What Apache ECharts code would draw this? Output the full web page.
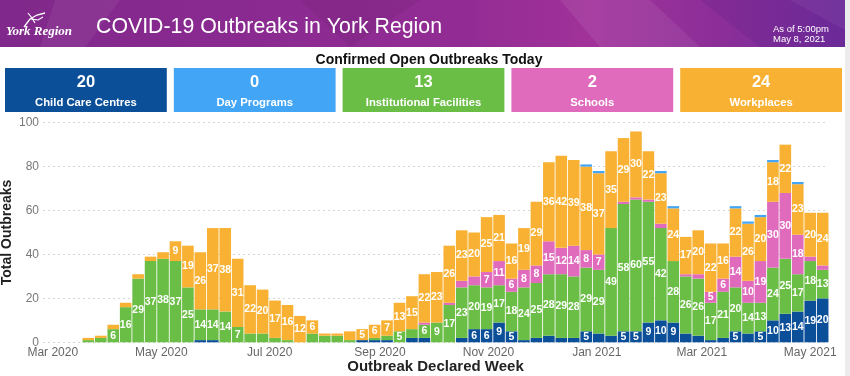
<!DOCTYPE html>
<html><head><meta charset="utf-8">
<script src="https://cdn.jsdelivr.net/npm/echarts@6/dist/echarts.min.js"></script>
<style>html,body{margin:0;padding:0;background:#ececec;overflow:hidden}#c{width:845px;height:376px;background:#fff}</style>
</head><body><div id="c"></div>
<script>
// ---- data ----
const weeks = ['2020-03-21','2020-03-28','2020-04-04','2020-04-11','2020-04-18','2020-04-25','2020-05-02','2020-05-09','2020-05-16','2020-05-23',
  '2020-05-30','2020-06-06','2020-06-13','2020-06-20','2020-06-27','2020-07-04','2020-07-11','2020-07-18','2020-07-25','2020-08-01',
  '2020-08-08','2020-08-15','2020-08-22','2020-08-29','2020-09-05','2020-09-12','2020-09-19','2020-09-26','2020-10-03','2020-10-10',
  '2020-10-17','2020-10-24','2020-10-31','2020-11-07','2020-11-14','2020-11-21','2020-11-28','2020-12-05','2020-12-12','2020-12-19',
  '2020-12-26','2021-01-02','2021-01-09','2021-01-16','2021-01-23','2021-01-30','2021-02-06','2021-02-13','2021-02-20','2021-02-27',
  '2021-03-06','2021-03-13','2021-03-20','2021-03-27','2021-04-03','2021-04-10','2021-04-17','2021-04-24','2021-05-01','2021-05-08'];
const childCare     = [0,0,0,0,0,0,0,0,0,1, 1,0,0,0,0,0,0,0,0,0, 0,0,1,1,1,0,2,2,0,0, 2,6,6,9,5,1,2,3,2,2, 5,4,3,5,5,9,10,9,4,3, 1,2,5,4,5,10,13,14,19,20];
const institutional = [1,2,6,16,29,37,38,37,25,14, 14,14,7,4,4,2,1,0,4,3, 3,1,0,1,2,5,4,6,9,17, 23,20,19,17,18,24,25,28,29,28, 29,29,49,58,60,55,42,28,26,26, 17,21,20,14,13,24,25,17,18,13];
const schools       = [0,0,0,0,0,0,0,0,0,0, 0,0,0,0,0,0,0,0,0,0, 0,0,0,0,0,0,0,1,0,1, 3,4,7,11,6,8,8,15,12,14, 8,7,0,1,1,1,2,0,1,2, 5,6,14,10,19,30,30,18,2,2];
const workplaces    = [1,1,2,2,2,2,3,9,19,26, 37,38,31,22,20,17,16,12,6,1, 1,4,5,6,7,13,15,22,23,26, 23,20,25,21,16,19,29,36,42,39, 38,37,35,29,30,22,23,24,17,20, 22,16,22,26,20,18,22,23,20,24];
const dayPrograms   = [0,0,0,0,0,0,0,0,0,0, 0,0,0,0,0,0,0,0,0,0, 0,0,0,0,0,0,0,0,0,0, 0,0,0,0,0,0,0,0,0,0, 1,1,0,0,0,0,1,1,0,0, 0,0,1,1,1,1,0,1,0,0];
const categoryNames = ['Child Care Centres','Day Programs','Institutional Facilities','Schools','Workplaces'];
const openToday = [20,0,13,2,24];
const labelMonths = [2,4,6,8,10,0]; // Mar, May, Jul, Sep, Nov, Jan (month indexes labelled on the axis)
const monthNames = ['Jan','Feb','Mar','Apr','May','Jun','Jul','Aug','Sep','Oct','Nov','Dec'];
const titleText = 'COVID-19 Outbreaks in York Region';
const asOfLines = ['As of 5:00pm','May 8, 2021'];
const subTitle = 'Confirmed Open Outbreaks Today';
const colors = ['#0b4f99','#42a5f5','#6abd45','#e06bbd','#f8b133'];

// ---- helpers ----
function parseLocal(s){const p=s.split('-');return new Date(+p[0],+p[1]-1,+p[2]).getTime();}
const FONT='"Liberation Sans", Arial, sans-serif';
const DAY = 86400000;
const GRID = {left:43, right:17, top:122.7, bottom:33.7};
const PLOT_L = GRID.left, PLOT_R = 845 - GRID.right;
const viewStart = new Date(2020,1,24,12).getTime();
const viewEnd = new Date(2021,4,11).getTime();

const chart = echarts.init(document.getElementById('c'), null, {renderer:'canvas'});

function mk(idx, arr, name){
  return {
    name: name, type:'bar', stack:'total', barWidth: 11.6,
    itemStyle:{color: colors[idx]},
    label:{show:true, position:'inside', color:'#fff', fontSize:10.5, fontWeight:'bold', fontFamily:FONT,
      formatter: p => (p.value[1] >= 5 ? String(p.value[1]) : '')},
    emphasis:{disabled:true},
    data: weeks.map((w,i)=>[parseLocal(w), arr[i]])
  };
}

// graphics: header + boxes
const g = [];
g.push({type:'rect', shape:{x:0,y:0,width:845,height:47}, silent:true,
  style:{fill:new echarts.graphic.LinearGradient(0,0,1,0,[
    {offset:0,color:'#80288b'},{offset:0.3,color:'#8a2a90'},{offset:0.55,color:'#922c94'},
    {offset:0.7,color:'#a1329a'},{offset:0.85,color:'#8c2e98'},{offset:1,color:'#722e9c'}])}});
const facets = [
  {pts:[[55,0],[120,0],[85,47],[40,47]], c:'rgba(255,255,255,0.06)'},
  {pts:[[300,0],[420,0],[350,47]], c:'rgba(0,0,0,0.05)'},
  {pts:[[560,0],[650,0],[700,47],[600,47]], c:'rgba(255,255,255,0.07)'},
  {pts:[[700,0],[845,0],[845,47],[760,47]], c:'rgba(60,20,120,0.12)'},
  {pts:[[790,0],[845,0],[845,30]], c:'rgba(255,255,255,0.05)'}
];
facets.forEach(f=>g.push({type:'polygon', silent:true, shape:{points:f.pts}, style:{fill:f.c}}));
g.push({type:'polyline', silent:true, shape:{points:[[24,27],[30,19],[37,15],[45,13]]}, style:{stroke:'#fff', lineWidth:1.3, fill:null}});
g.push({type:'polyline', silent:true, shape:{points:[[28,13],[32,18],[35,23]]}, style:{stroke:'#fff', lineWidth:1.2, fill:null}});
g.push({type:'polyline', silent:true, shape:{points:[[31,19],[38,20],[43,17]]}, style:{stroke:'#fff', lineWidth:1.1, fill:null}});
g.push({type:'text', silent:true, x:6, y:32, style:{text:'York Region', fill:'#fff', font:'italic bold 13px "Liberation Serif", "DejaVu Serif", serif', align:'left', verticalAlign:'middle'}});
g.push({type:'text', silent:true, x:96, y:27, style:{text:titleText, fill:'#fff', font:'21.3px '+FONT, align:'left', verticalAlign:'middle'}});
g.push({type:'text', silent:true, x:773, y:29.5, style:{text:asOfLines[0], fill:'#fff', font:'9.5px '+FONT, align:'left', verticalAlign:'middle'}});
g.push({type:'text', silent:true, x:773, y:39.5, style:{text:asOfLines[1], fill:'#fff', font:'9.5px '+FONT, align:'left', verticalAlign:'middle'}});
g.push({type:'text', silent:true, x:429, y:60, style:{text:subTitle, fill:'#111', font:'bold 14px '+FONT, align:'center', verticalAlign:'middle'}});
const boxW = 161.8, boxGap = 7, boxX0 = 5;
categoryNames.forEach((nm,i)=>{
  const x = boxX0 + i*(boxW+boxGap);
  g.push({type:'rect', silent:true, shape:{x:x,y:68,width:boxW,height:44}, style:{fill:colors[i]}});
  g.push({type:'text', silent:true, x:x+boxW/2, y:82.5, style:{text:String(openToday[i]), fill:'#fff', font:'bold 16.5px '+FONT, align:'center', verticalAlign:'middle'}});
  g.push({type:'text', silent:true, x:x+boxW/2, y:103, style:{text:nm, fill:'#fff', font:'bold 11.3px '+FONT, align:'center', verticalAlign:'middle'}});
});

const option = {
  animation:false,
  textStyle:{fontFamily:FONT},
  grid:Object.assign({outerBoundsMode:'none', containLabel:false}, GRID),
  xAxis:{
    type:'time',
    min: viewStart, max: viewEnd,
    minInterval: 28*DAY, maxInterval: 31*DAY, splitNumber: 16,
    name:'Outbreak Declared Week', nameLocation:'middle', nameGap:17, nameMoveOverlap:false,
    nameTextStyle:{fontSize:15, fontWeight:'bold', color:'#222', fontFamily:FONT},
    axisLine:{show:false}, axisTick:{show:false}, splitLine:{show:false},
    axisLabel:{
      color:'#666', fontSize:12, margin:4, hideOverlap:false, showMinLabel:false, showMaxLabel:false,
      formatter: function(v){ const d=new Date(v); if(d.getDate()!==1 || labelMonths.indexOf(d.getMonth())<0) return ''; return monthNames[d.getMonth()]+' '+d.getFullYear(); }
    }
  },
  yAxis:{
    type:'value', min:0, max:100, interval:20,
    name:'Total Outbreaks', nameLocation:'middle', nameGap:29, nameMoveOverlap:false,
    nameTextStyle:{fontSize:14, fontWeight:'bold', color:'#222', fontFamily:FONT},
    axisLine:{show:false}, axisTick:{show:false},
    axisLabel:{color:'#777', fontSize:12, margin:4},
    splitLine:{lineStyle:{type:[2,3], color:'#d6d6d6', width:1}}
  },
  series:[
    mk(0, childCare, categoryNames[0]),
    mk(2, institutional, categoryNames[2]),
    mk(3, schools, categoryNames[3]),
    mk(4, workplaces, categoryNames[4]),
    mk(1, dayPrograms, categoryNames[1])
  ],
  graphic: g
};
chart.setOption(option);

// the time axis widens its range to fit bar widths; refine min/max so that the
// visible window is exactly viewStart..viewEnd across the plot width
let mn = viewStart, mx = viewEnd;
for (let it = 0; it < 8; it++) {
  const pa = chart.convertToPixel({xAxisIndex:0}, viewStart);
  const pb = chart.convertToPixel({xAxisIndex:0}, viewEnd);
  if (!isFinite(pa) || !isFinite(pb) || pb === pa) break;
  const s = (pb - pa) / (viewEnd - viewStart);
  const tL = viewStart + (PLOT_L - pa) / s;
  const tR = viewEnd + (PLOT_R - pb) / s;
  if (Math.abs(PLOT_L - pa) < 0.05 && Math.abs(PLOT_R - pb) < 0.05) break;
  mn += (viewStart - tL); mx += (viewEnd - tR);
  chart.setOption({xAxis:{min:mn, max:mx}});
}
</script>
</body></html>
